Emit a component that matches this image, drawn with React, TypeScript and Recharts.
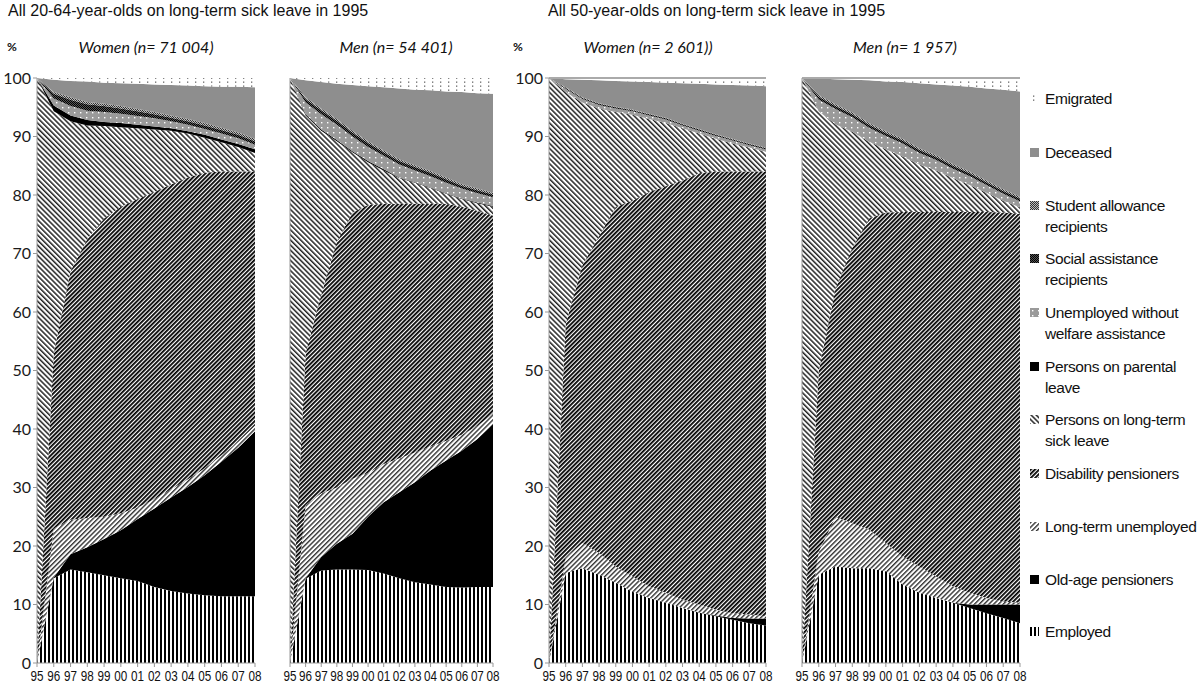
import { Area, AreaChart, ReferenceLine, XAxis, YAxis } from 'recharts'

const years = ['95', '96', '97', '98', '99', '00', '01', '02', '03', '04', '05', '06', '07', '08']

// stacking order, bottom to top
const seriesKeys = [
  'employed',
  'oldAge',
  'longUnemployed',
  'disability',
  'sickLeave',
  'parental',
  'unemployedNoWelfare',
  'socialAssistance',
  'studentAllowance',
  'deceased',
  'emigrated',
]

const seriesLabels = [
  ['Employed'],
  ['Old-age pensioners'],
  ['Long-term unemployed'],
  ['Disability pensioners'],
  ['Persons on long-term', 'sick leave'],
  ['Persons on parental', 'leave'],
  ['Unemployed without', 'welfare assistance'],
  ['Social assistance', 'recipients'],
  ['Student allowance', 'recipients'],
  ['Deceased'],
  ['Emigrated'],
]

// % of each cohort per year, one row per series (same order as seriesKeys)
const women2064 = [
  [0, 14.5, 16, 15.5, 15, 14.5, 14, 13, 12.3, 11.9, 11.6, 11.4, 11.4, 11.4],
  [0, 0.1, 2.6, 4.3, 6.2, 8.2, 10.6, 13.4, 16, 18.2, 20.5, 23, 25.4, 28.2],
  [0, 8.4, 5.9, 5.0, 3.8, 2.9, 2.0, 1.6, 1.4, 1.3, 1.2, 1.1, 1.0, 1.0],
  [0, 30, 42.5, 47.7, 51, 52.4, 52.7, 52.5, 52.1, 51.6, 50.5, 48.5, 46.2, 43.4],
  [100, 41.3, 25.6, 19.4, 15.8, 13.6, 12.1, 10.7, 9.2, 7.5, 6.0, 5.0, 4.2, 3.2],
  [0, 1.0, 1.0, 0.9, 0.7, 0.7, 0.6, 0.5, 0.4, 0.4, 0.5, 0.5, 0.5, 0.6],
  [0, 1.2, 1.6, 1.6, 1.7, 1.6, 1.5, 1.4, 1.2, 1.1, 1.0, 1.0, 1.0, 0.8],
  [0, 0.8, 1.1, 1.1, 1.0, 0.9, 0.8, 0.7, 0.6, 0.6, 0.6, 0.6, 0.6, 0.6],
  [0, 0.3, 0.4, 0.4, 0.4, 0.4, 0.4, 0.4, 0.4, 0.4, 0.4, 0.4, 0.4, 0.4],
  [0, 2.1, 2.8, 3.5, 3.6, 3.9, 4.3, 4.7, 5.2, 5.7, 6.3, 7.0, 7.8, 8.8],
  [0, 0.3, 0.5, 0.6, 0.8, 0.9, 1.0, 1.1, 1.2, 1.3, 1.4, 1.5, 1.5, 1.6],
]

const men2064 = [
  [0, 14.4, 15.8, 16.0, 16.0, 15.9, 15.3, 14.5, 13.8, 13.4, 13.0, 12.9, 13.0, 13.0],
  [0, 0.1, 2.3, 4.4, 6.1, 9.1, 12.2, 14.7, 17.1, 19.5, 21.6, 23.4, 25.3, 27.8],
  [0, 12.5, 10.9, 9.6, 9.4, 7.5, 6.5, 5.8, 5.1, 4.1, 3.4, 2.7, 2.2, 1.8],
  [0, 26, 34, 42, 45.5, 45.8, 44.5, 43.5, 42.5, 41.5, 40.5, 39, 36.8, 33.9],
  [100, 40.6, 28.0, 17.2, 10.3, 7.3, 5.7, 4.4, 3.6, 2.7, 1.7, 1.3, 1.3, 1.5],
  [0, 0.2, 0.2, 0.2, 0.2, 0.2, 0.2, 0.1, 0.1, 0.1, 0.1, 0.1, 0.1, 0.1],
  [0, 2.0, 2.6, 2.6, 2.5, 2.4, 2.3, 2.2, 2.0, 1.9, 1.8, 1.7, 1.6, 1.5],
  [0, 0.6, 0.7, 0.7, 0.7, 0.7, 0.6, 0.6, 0.6, 0.6, 0.6, 0.5, 0.5, 0.5],
  [0, 0.3, 0.3, 0.3, 0.3, 0.3, 0.3, 0.3, 0.3, 0.3, 0.3, 0.3, 0.3, 0.3],
  [0, 2.9, 4.5, 6.0, 7.8, 9.4, 10.8, 12.1, 12.9, 13.8, 14.7, 15.7, 16.3, 16.9],
  [0, 0.4, 0.7, 1.0, 1.2, 1.4, 1.6, 1.8, 2.0, 2.1, 2.3, 2.4, 2.6, 2.7],
]

const women50 = [
  [0, 15.4, 16.2, 15.1, 13.7, 12.2, 11.1, 10.3, 9.4, 8.6, 8.0, 7.4, 6.8, 6.4],
  [0, 0, 0, 0, 0, 0, 0, 0, 0, 0, 0.1, 0.3, 0.8, 1.2],
  [0, 2.6, 4.3, 3.7, 2.8, 2.6, 2.0, 1.7, 1.4, 1.4, 1.0, 0.8, 0.7, 0.4],
  [0, 40, 47.5, 54.2, 61.5, 64.2, 67.4, 69.5, 71.7, 73.7, 74.9, 75.5, 75.7, 76],
  [100, 39.6, 27.8, 21.8, 16.2, 14.7, 12.5, 10.8, 8.9, 6.8, 5.6, 4.8, 4.1, 3.4],
  [0, 0, 0, 0, 0, 0, 0, 0, 0, 0, 0, 0, 0, 0],
  [0, 0.5, 0.6, 0.6, 0.6, 0.6, 0.6, 0.6, 0.5, 0.5, 0.5, 0.5, 0.4, 0.4],
  [0, 0.2, 0.2, 0.2, 0.2, 0.2, 0.2, 0.2, 0.2, 0.2, 0.2, 0.2, 0.2, 0.2],
  [0, 0.1, 0.1, 0.1, 0.1, 0.1, 0.1, 0.1, 0.1, 0.1, 0.1, 0.1, 0.1, 0.1],
  [0, 1.4, 3.0, 3.9, 4.4, 4.8, 5.4, 6.0, 6.9, 7.7, 8.5, 9.2, 9.9, 10.5],
  [0, 0.2, 0.3, 0.4, 0.5, 0.6, 0.7, 0.8, 0.9, 1.0, 1.1, 1.2, 1.3, 1.4],
]

const men50 = [
  [0, 15.1, 16.5, 16.2, 16.2, 15.7, 13.4, 12.0, 11.1, 10.3, 9.4, 8.5, 7.7, 6.8],
  [0, 0, 0, 0, 0, 0, 0, 0, 0, 0, 0.6, 1.5, 2.3, 3.2],
  [0, 3.9, 8.5, 7.7, 6.6, 4.8, 4.8, 4.5, 3.7, 2.8, 2.0, 1.1, 0.5, 0.3],
  [0, 31, 39, 47.1, 53.2, 56.5, 58.9, 60.6, 62.3, 64, 65.1, 66, 66.5, 66.5],
  [100, 44.3, 28.1, 19.8, 13.1, 10.8, 9.5, 8.1, 7.1, 5.8, 4.6, 3.3, 2.0, 1.1],
  [0, 0, 0, 0, 0, 0, 0, 0, 0, 0, 0, 0, 0, 0],
  [0, 2.0, 2.6, 2.5, 2.4, 2.3, 2.2, 2.0, 1.8, 1.6, 1.5, 1.3, 1.2, 1.0],
  [0, 0.5, 0.5, 0.5, 0.5, 0.5, 0.5, 0.5, 0.5, 0.5, 0.5, 0.5, 0.5, 0.5],
  [0, 0.3, 0.3, 0.3, 0.3, 0.3, 0.3, 0.3, 0.3, 0.3, 0.3, 0.3, 0.3, 0.3],
  [0, 2.8, 4.3, 5.6, 7.3, 8.5, 9.7, 11.1, 12.1, 13.4, 14.5, 15.7, 17.0, 18.0],
  [0, 0.1, 0.2, 0.3, 0.4, 0.6, 0.7, 0.9, 1.1, 1.3, 1.5, 1.8, 2.0, 2.3],
]

const yTicks = [0, 10, 20, 30, 40, 50, 60, 70, 80, 90, 100]

const AXIS_W = 37
const RIGHT_PAD = 12
const FONT_SANS = "'Liberation Sans', Arial, sans-serif"
const FONT_CAL = "Lato, 'Open Sans', sans-serif"

function toRows(values: number[][]) {
  return years.map((year, i) => {
    const row: Record<string, string | number> = { year }
    seriesKeys.forEach((k, j) => {
      row[k] = values[j][i]
    })
    return row
  })
}

function Patterns() {
  return (
    <svg width={0} height={0} style={{ position: 'absolute' }}>
      <defs>
        <pattern id="pat-employed" width={4} height={4} patternUnits="userSpaceOnUse">
          <rect width={4} height={4} fill="#fff" />
          <rect width={2} height={4} fill="#000" />
        </pattern>
        <pattern id="pat-oldAge" width={4} height={4} patternUnits="userSpaceOnUse">
          <rect width={4} height={4} fill="#000" />
        </pattern>
        <pattern id="pat-longUnemployed" width={3.4} height={4} patternUnits="userSpaceOnUse" patternTransform="rotate(45)">
          <rect width={3.4} height={4} fill="#fff" />
          <rect width={1.4} height={4} fill="#333" />
        </pattern>
        <pattern id="pat-disability" width={3} height={4} patternUnits="userSpaceOnUse" patternTransform="rotate(45)">
          <rect width={3} height={4} fill="#fff" />
          <rect width={1.8} height={4} fill="#000" />
        </pattern>
        <pattern id="pat-sickLeave" width={3.6} height={4} patternUnits="userSpaceOnUse" patternTransform="rotate(-45)">
          <rect width={3.6} height={4} fill="#fff" />
          <rect width={1.5} height={4} fill="#222" />
        </pattern>
        <pattern id="pat-parental" width={4} height={4} patternUnits="userSpaceOnUse">
          <rect width={4} height={4} fill="#000" />
        </pattern>
        <pattern id="pat-unemployedNoWelfare" width={6} height={5} patternUnits="userSpaceOnUse">
          <rect width={6} height={5} fill="#9a9a9a" />
          <rect x={2} y={2} width={1.4} height={1.4} fill="#fff" />
        </pattern>
        <pattern id="pat-socialAssistance" width={2} height={2} patternUnits="userSpaceOnUse">
          <rect width={2} height={2} fill="#555" />
          <rect width={1} height={1} fill="#000" />
          <rect x={1} y={1} width={1} height={1} fill="#000" />
        </pattern>
        <pattern id="pat-studentAllowance" width={2} height={2} patternUnits="userSpaceOnUse">
          <rect width={2} height={2} fill="#bbb" />
          <rect width={1} height={1} fill="#333" />
          <rect x={1} y={1} width={1} height={1} fill="#333" />
        </pattern>
        <pattern id="pat-deceased" width={4} height={4} patternUnits="userSpaceOnUse">
          <rect width={4} height={4} fill="#8e8e8e" />
        </pattern>
        <pattern id="pat-emigrated" width={8} height={4} patternUnits="userSpaceOnUse">
          <rect width={8} height={4} fill="#fff" />
          <rect x={3} y={1.5} width={1.3} height={1.3} fill="#666" />
        </pattern>
      </defs>
    </svg>
  )
}

function YearTick({ x, y, payload }: any) {
  return (
    <text
      x={x}
      y={y + 12}
      textAnchor="middle"
      fontFamily="'Liberation Sans Narrow', 'Liberation Sans', Arial"
      fontSize={14}
      fill="#111"
      textLength={13}
      lengthAdjust="spacingAndGlyphs"
    >
      {payload.value}
    </text>
  )
}

interface PanelProps {
  values: number[][]
  plotLeft: number
  plotRight: number
  showTicks: boolean
  topLine: boolean
}

function Panel({ values, plotLeft, plotRight, showTicks, topLine }: PanelProps) {
  const width = plotRight - plotLeft + AXIS_W + RIGHT_PAD
  return (
    <div style={{ position: 'absolute', left: plotLeft - AXIS_W, top: 0 }}>
      <AreaChart width={width} height={687} data={toRows(values)} margin={{ top: 78, right: RIGHT_PAD, bottom: 0, left: 0 }}>
        <XAxis
          dataKey="year"
          height={24}
          interval={0}
          stroke="#999"
          tickSize={4}
          tick={<YearTick />}
        />
        <YAxis
          width={AXIS_W}
          domain={[0, 100]}
          ticks={yTicks}
          allowDataOverflow
          stroke="#999"
          tickSize={showTicks ? 4 : 0}
          tick={showTicks ? { fill: '#1a1a1a', fontSize: 16, fontFamily: FONT_CAL } : false}
        />
        {seriesKeys.map((k) => (
          <Area
            key={k}
            type="linear"
            dataKey={k}
            stackId="1"
            stroke="none"
            fill={`url(#pat-${k})`}
            fillOpacity={1}
            isAnimationActive={false}
            dot={false}
            activeDot={false}
          />
        ))}
        {topLine && <ReferenceLine y={100} stroke="#aaa" strokeWidth={2} />}
      </AreaChart>
    </div>
  )
}

// y centre of each legend entry, from Employed (bottom) up to Emigrated
const legendY = [631, 579, 526, 473, 419, 366, 312, 258, 205, 152, 98]

function Legend() {
  return (
    <>
      {seriesKeys.map((k, i) => (
        <div key={k} style={{ position: 'absolute', left: 1030, top: legendY[i] - 10 }}>
          <svg width={9} height={9} style={{ position: 'absolute', left: 0, top: 6 }}>
            <rect width={9} height={9} fill={`url(#pat-${k})`} />
          </svg>
          <div
            style={{
              position: 'absolute',
              left: 15,
              top: 0,
              fontFamily: FONT_SANS,
              fontSize: 15.5,
              letterSpacing: -0.4,
              lineHeight: '21px',
              whiteSpace: 'nowrap',
              color: '#111',
            }}
          >
            {seriesLabels[i].map((line) => (
              <div key={line}>{line}</div>
            ))}
          </div>
        </div>
      ))}
    </>
  )
}

const subTitle = {
  position: 'absolute' as const,
  top: 37,
  fontFamily: FONT_CAL,
  fontStyle: 'italic',
  fontSize: 16,
  whiteSpace: 'nowrap' as const,
  transform: 'translateX(-50%)',
  color: '#111',
}

const groupTitle = {
  position: 'absolute' as const,
  top: 2,
  fontFamily: FONT_SANS,
  fontSize: 16,
  whiteSpace: 'nowrap' as const,
  color: '#111',
}

const pct = {
  position: 'absolute' as const,
  top: 39,
  fontFamily: FONT_CAL,
  fontWeight: 700,
  fontSize: 12,
  color: '#111',
}

export default function App() {
  return (
    <div style={{ position: 'absolute', left: 0, top: 0, width: 1200, height: 687, background: '#fff', overflow: 'hidden' }}>
      <Patterns />
      <div style={{ ...groupTitle, left: 8 }}>All 20-64-year-olds on long-term sick leave in 1995</div>
      <div style={{ ...groupTitle, left: 548 }}>All 50-year-olds on long-term sick leave in 1995</div>
      <div style={{ ...pct, left: 7 }}>%</div>
      <div style={{ ...pct, left: 513 }}>%</div>
      <div style={{ ...subTitle, left: 146 }}>Women (n= 71 004)</div>
      <div style={{ ...subTitle, left: 396 }}>Men (n= 54 401)</div>
      <div style={{ ...subTitle, left: 648 }}>Women (n= 2 601))</div>
      <div style={{ ...subTitle, left: 905 }}>Men (n= 1 957)</div>
      <Panel values={women2064} plotLeft={37} plotRight={255} showTicks topLine={false} />
      <Panel values={men2064} plotLeft={290} plotRight={493} showTicks={false} topLine={false} />
      <Panel values={women50} plotLeft={549} plotRight={766} showTicks topLine />
      <Panel values={men50} plotLeft={802} plotRight={1020} showTicks={false} topLine />
      <Legend />
    </div>
  )
}
